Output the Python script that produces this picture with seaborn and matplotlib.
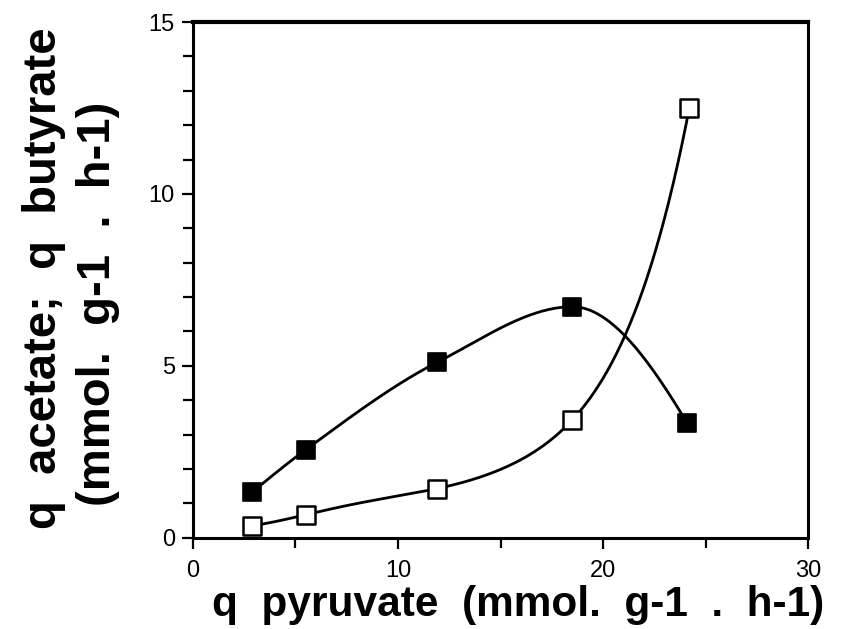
import numpy as np
import pandas as pd
import matplotlib
matplotlib.use("Agg")
import matplotlib.pyplot as plt
import seaborn as sns
from matplotlib.ticker import MultipleLocator

# q pyruvate (mmol. g-1 . h-1)
q_pyruvate = [2.9, 5.5, 11.9, 18.5, 24.1]
# filled squares
q_filled = [1.33, 2.56, 5.1, 6.72, 3.33]
# open squares
q_pyruvate_open = [2.9, 5.5, 11.9, 18.5, 24.2]
q_open = [0.35, 0.67, 1.43, 3.43, 12.5]

x_ticks = [0, 10, 20, 30]
y_ticks = [0, 5, 10, 15]


def natural_spline(x, y, xs):
    x = np.asarray(x, float)
    y = np.asarray(y, float)
    n = len(x)
    h = np.diff(x)
    A = np.zeros((n, n))
    b = np.zeros(n)
    A[0, 0] = A[-1, -1] = 1.0
    for i in range(1, n - 1):
        A[i, i - 1] = h[i - 1]
        A[i, i] = 2 * (h[i - 1] + h[i])
        A[i, i + 1] = h[i]
        b[i] = 6 * ((y[i + 1] - y[i]) / h[i] - (y[i] - y[i - 1]) / h[i - 1])
    M = np.linalg.solve(A, b)
    idx = np.clip(np.searchsorted(x, xs) - 1, 0, n - 2)
    x0, x1 = x[idx], x[idx + 1]
    hh = x1 - x0
    t0, t1 = x1 - xs, xs - x0
    return (M[idx] * t0 ** 3 / (6 * hh) + M[idx + 1] * t1 ** 3 / (6 * hh)
            + (y[idx] / hh - M[idx] * hh / 6) * t0
            + (y[idx + 1] / hh - M[idx + 1] * hh / 6) * t1)


def pchip(x, y, xs):
    """Shape-preserving (Fritsch-Carlson) cubic interpolation."""
    x = np.asarray(x, float)
    y = np.asarray(y, float)
    n = len(x)
    h = np.diff(x)
    delta = np.diff(y) / h
    d = np.zeros(n)
    for k in range(1, n - 1):
        if delta[k - 1] * delta[k] > 0:
            w1 = 2 * h[k] + h[k - 1]
            w2 = h[k] + 2 * h[k - 1]
            d[k] = (w1 + w2) / (w1 / delta[k - 1] + w2 / delta[k])

    def end_slope(h0, h1, d0, d1):
        s = ((2 * h0 + h1) * d0 - h0 * d1) / (h0 + h1)
        if np.sign(s) != np.sign(d0):
            return 0.0
        if np.sign(d0) != np.sign(d1) and abs(s) > 3 * abs(d0):
            return 3 * d0
        return s

    d[0] = end_slope(h[0], h[1], delta[0], delta[1])
    d[-1] = end_slope(h[-1], h[-2], delta[-1], delta[-2])
    idx = np.clip(np.searchsorted(x, xs) - 1, 0, n - 2)
    hk = h[idx]
    t = (xs - x[idx]) / hk
    h00 = 2 * t ** 3 - 3 * t ** 2 + 1
    h10 = t ** 3 - 2 * t ** 2 + t
    h01 = -2 * t ** 3 + 3 * t ** 2
    h11 = t ** 3 - t ** 2
    return h00 * y[idx] + h10 * hk * d[idx] + h01 * y[idx + 1] + h11 * hk * d[idx + 1]


sns.set_theme(style="ticks")
plt.rcParams["font.family"] = ["Liberation Sans", "DejaVu Sans"]

fig = plt.figure(figsize=(8.42, 6.29), dpi=100)
ax = fig.add_axes([0.229, 0.145, 0.731, 0.82])

# smooth curves through the measured points
xs_f = np.linspace(q_pyruvate[0], q_pyruvate[-1], 300)
xs_o = np.linspace(q_pyruvate_open[0], q_pyruvate_open[-1], 300)
curve_f = pd.DataFrame({"x": xs_f, "y": pchip(q_pyruvate, q_filled, xs_f)})
# open series fitted in log space for its steep rise
curve_o = pd.DataFrame({"x": xs_o,
                        "y": np.exp(natural_spline(q_pyruvate_open, np.log(q_open), xs_o))})

sns.lineplot(data=curve_f, x="x", y="y", ax=ax, color="black", lw=2.0, sort=False)
sns.lineplot(data=curve_o, x="x", y="y", ax=ax, color="black", lw=2.0, sort=False)

pts_f = pd.DataFrame({"x": q_pyruvate, "y": q_filled})
pts_o = pd.DataFrame({"x": q_pyruvate_open, "y": q_open})
sns.scatterplot(data=pts_f, x="x", y="y", ax=ax, marker="s", s=160,
                color="black", edgecolor="black", linewidth=1.2, zorder=5)
sns.scatterplot(data=pts_o, x="x", y="y", ax=ax, marker="s", s=150,
                facecolor="white", edgecolor="black", linewidth=1.8, zorder=5)

ax.set_xlim(0, 30)
ax.set_ylim(0, 15)
ax.set_xticks(x_ticks)
ax.set_yticks(y_ticks)
ax.xaxis.set_minor_locator(MultipleLocator(5))
ax.yaxis.set_minor_locator(MultipleLocator(1))
ax.tick_params(which="both", direction="out", width=1.6, color="black",
               labelsize=17, labelcolor="black")
ax.tick_params(which="major", length=8)
ax.tick_params(which="minor", length=7)
ax.tick_params(axis="x", which="major", pad=8)
ax.tick_params(axis="y", which="major", pad=5)

for side, sp in ax.spines.items():
    sp.set_visible(True)
    sp.set_color("black")
    sp.set_linewidth(2.2)
ax.spines["top"].set_linewidth(3)

ax.set_xlabel("q  pyruvate  (mmol.  g-1  .  h-1)", fontsize=30.5,
              fontweight="bold", color="black")
ax.xaxis.set_label_coords(0.528, -0.092)
# trailing spaces push the second line toward the axis origin
ax.set_ylabel("q  acetate;  q  butyrate\n(mmol.  g-1  .  h-1)    ", fontsize=34,
              fontweight="bold", color="black", linespacing=1.28)
ax.yaxis.set_label_coords(-0.119, 0.504)

fig.savefig("out.png", dpi=100, facecolor="white")
